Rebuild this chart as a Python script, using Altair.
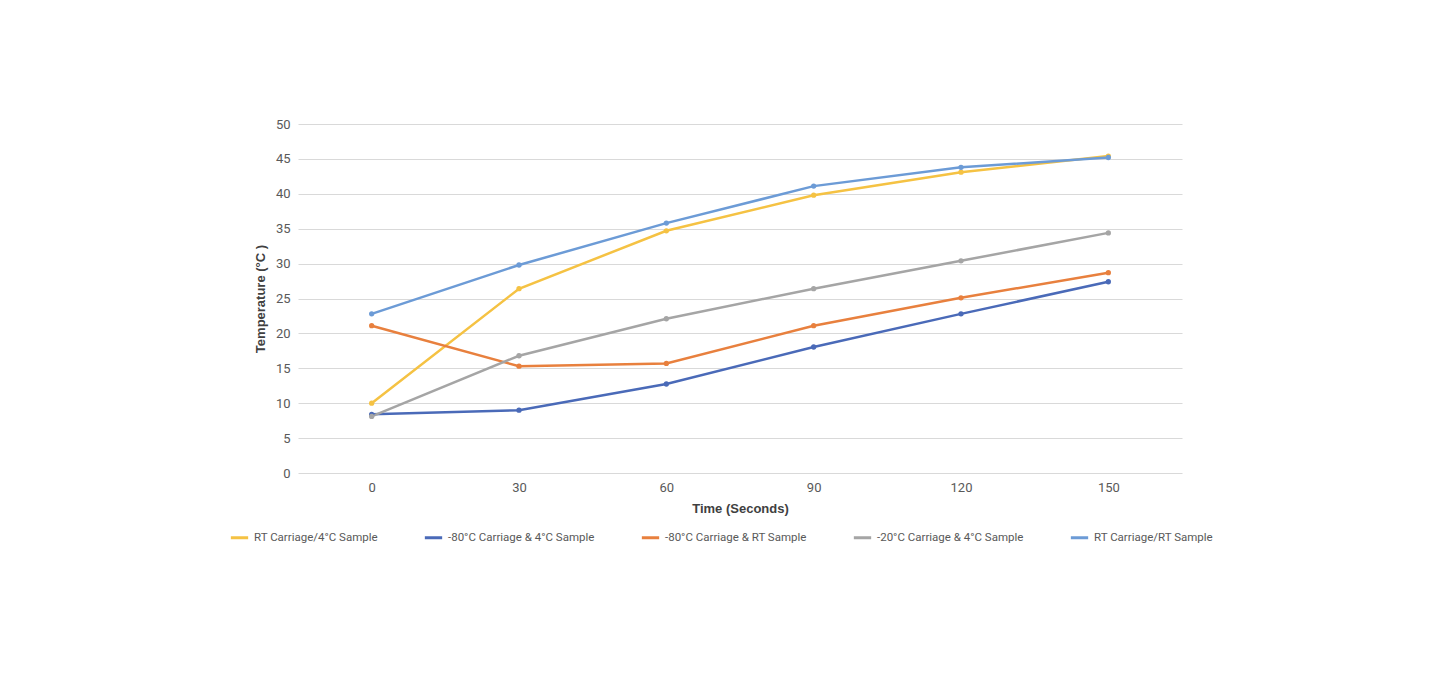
import altair as alt
import pandas as pd

times = [0, 30, 60, 90, 120, 150]
series_names = [
    "RT Carriage/4°C Sample",
    "-80°C Carriage & 4°C Sample",
    "-80°C Carriage & RT Sample",
    "-20°C Carriage & 4°C Sample",
    "RT Carriage/RT Sample",
]
rt_4c = [10.0, 26.4, 34.7, 39.8, 43.1, 45.4]
m80_4c = [8.4, 9.0, 12.75, 18.05, 22.8, 27.4]
m80_rt = [21.1, 15.3, 15.7, 21.1, 25.1, 28.7]
m20_4c = [8.1, 16.8, 22.1, 26.4, 30.4, 34.4]
rt_rt = [22.8, 29.8, 35.8, 41.1, 43.8, 45.2]
colors = ["#F5C243", "#4A6AB8", "#E8803E", "#A5A5A5", "#6C9BD6"]

rows = []
for name, vals in zip(series_names, [rt_4c, m80_4c, m80_rt, m20_4c, rt_rt]):
    for t, v in zip(times, vals):
        rows.append({"Time": t, "Temp": v, "Series": name})
df = pd.DataFrame(rows)

color = alt.Color(
    "Series:N",
    scale=alt.Scale(domain=series_names, range=colors),
    sort=series_names,
    legend=alt.Legend(
        title=None,
        orient="none",
        direction="horizontal",
        legendX=-69,
        legendY=403,
        symbolType="stroke",
        symbolStrokeWidth=3,
        symbolSize=300,
        labelFont="Roboto",
        labelFontSize=11.5,
        labelColor="#595959",
        columnPadding=40,
        columns=5,
    ),
)

x = alt.X(
    "Time:O",
    scale=alt.Scale(type="point", padding=0.5),
    axis=alt.Axis(
        title="Time (Seconds)",
        labelAngle=0,
        ticks=False,
        domain=False,
        grid=False,
        labelPadding=8,
        titlePadding=8,
    ),
)
y = alt.Y(
    "Temp:Q",
    scale=alt.Scale(domain=[0, 50]),
    axis=alt.Axis(
        title="Temperature (°C )",
        values=[0, 5, 10, 15, 20, 25, 30, 35, 40, 45, 50],
        ticks=False,
        domain=False,
        gridColor="#D9D9D9",
        gridWidth=1,
        labelPadding=8,
        titlePadding=8,
    ),
)

base = alt.Chart(df)
lines = base.mark_line(strokeWidth=2.5).encode(x=x, y=y, color=color, order="Time:O")
points = base.mark_circle(size=28, opacity=1).encode(x=x, y=y, color=alt.Color("Series:N", scale=alt.Scale(domain=series_names, range=colors), legend=None))

chart = (
    alt.layer(lines, points)
    .properties(width=884, height=349, padding={"left": 221, "top": 110, "right": 5, "bottom": 5})
    .configure_view(stroke=None)
    .configure_axis(
        labelFont="Roboto",
        labelFontSize=13,
        labelColor="#595959",
        titleFont="Liberation Sans",
        titleFontSize=13,
        titleFontWeight="bold",
        titleColor="#404040",
    )
)

chart.save("out.html", embed_options={"renderer": "svg", "actions": False})
